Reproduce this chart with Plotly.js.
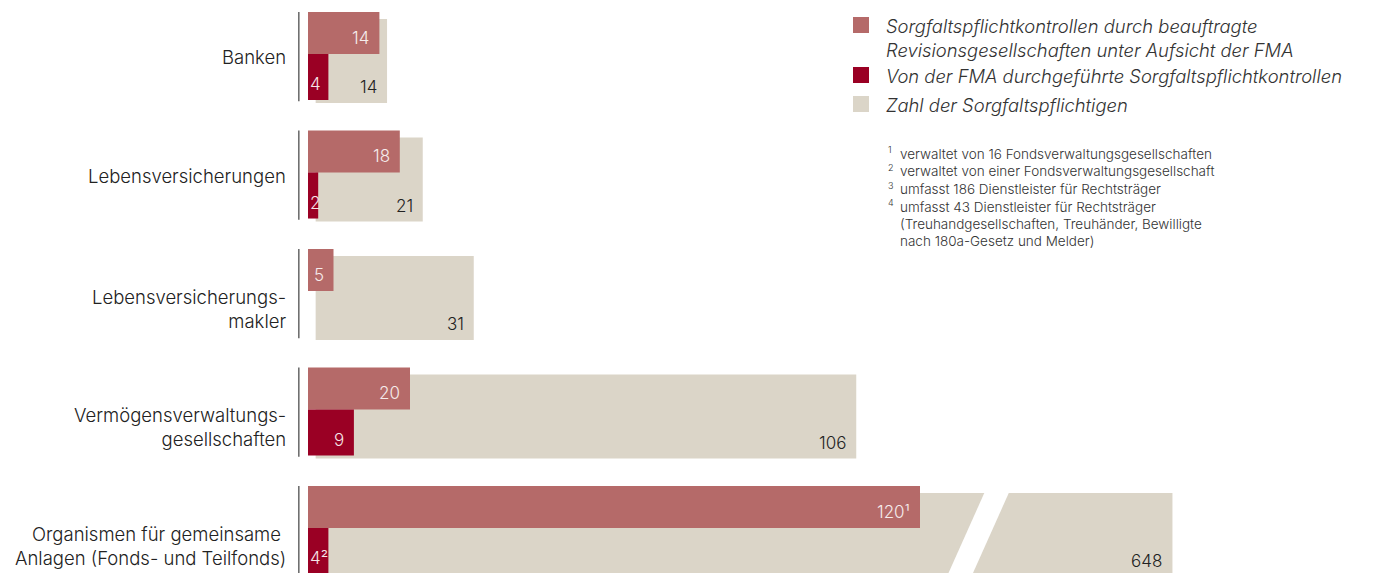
<!DOCTYPE html>
<html>
<head>
<meta charset="utf-8">
<script src="https://cdn.plot.ly/plotly-3.0.1.min.js"></script>
<style>html,body{margin:0;padding:0;background:#fff}#chart{width:1373px;height:573px}</style>
</head>
<body>
<div id="chart"></div>
<script>
// ---------- data ----------
const categories = ['Banken', 'Lebensversicherungen', 'Lebensversicherungsmakler', 'Vermögensverwaltungsgesellschaften', 'Organismen für gemeinsame Anlagen (Fonds- und Teilfonds)'];
const categoryLabels = ['Banken', 'Lebensversicherungen', 'Lebensversicherungs-<br>makler', 'Vermögensverwaltungs-<br>gesellschaften', 'Organismen für gemeinsame <br>Anlagen (Fonds- und Teilfonds)'];
const revisionControls = [14, 18, 5, 20, 120];
const fmaControls = [4, 2, null, 9, 4];
const obligedEntities = [14, 21, 31, 106, 648];
const revisionNotes = ['', '', '', '', '¹'];
const fmaNotes = ['', '', '', '', '²'];
const seriesNames = ['Sorgfaltspflichtkontrollen durch beauftragte<br>Revisionsgesellschaften unter Aufsicht der FMA', 'Von der FMA durchgeführte Sorgfaltspflichtkontrollen', 'Zahl der Sorgfaltspflichtigen'];
const footnotes = [
  ['1', 'verwaltet von 16 Fondsverwaltungsgesellschaften'],
  ['2', 'verwaltet von einer Fondsverwaltungsgesellschaft'],
  ['3', 'umfasst 186 Dienstleister für Rechtsträger'],
  ['4', 'umfasst 43 Dienstleister für Rechtsträger'],
  ['', '(Treuhandgesellschaften, Treuhänder, Bewilligte'],
  ['', 'nach 180a-Gesetz und Melder)']
];

// ---------- style / layout constants ----------
const W = 1373, H = 573;
const FONT = 'Inter, "Liberation Sans", Arial, sans-serif';
const ROSE = '#b56a69', DARK = '#9a0024', GREY = '#dbd5c8';
const ML = 290;                 // left margin (px)
const PXU = 5.1;                // pixels per unit
const X0 = -(308 - ML) / PXU;   // axis starts a bit left of zero
const X1 = X0 + (W - ML) / PXU;
const Y_TOP = -0.485, Y_BOT = 4.35;
const PYU = H / (Y_BOT - Y_TOP); // pixels per y unit
const GREY_BASE = 1.5;          // grey bars start slightly right of zero
const BREAK_FROM = 130, BREAK_TO = 610;  // axis break (values cut out)
const ROSE_OFF = -0.384, ROSE_W = 0.354;
const DARK_OFF = -0.030, DARK_W = 0.389;
const GREY_OFF = -0.325, GREY_W = 0.709;

const idx = categories.map((_, i) => i);
const disp = v => (v != null && v > BREAK_TO) ? v - (BREAK_TO - BREAK_FROM) : v;

const px2paperX = p => (p - ML) / (W - ML);
const px2paperY = p => 1 - p / H;

const traces = [
  {type: 'bar', orientation: 'h', name: seriesNames[2], y: idx, x: obligedEntities.map(disp),
   base: idx.map(() => GREY_BASE), offset: GREY_OFF, width: GREY_W,
   marker: {color: GREY}, customdata: obligedEntities, hovertemplate: '%{customdata}<extra></extra>'},
  {type: 'bar', orientation: 'h', name: seriesNames[0], y: idx, x: revisionControls,
   offset: ROSE_OFF, width: ROSE_W, marker: {color: ROSE}, hovertemplate: '%{x}<extra></extra>'},
  {type: 'bar', orientation: 'h', name: seriesNames[1], y: idx, x: fmaControls,
   offset: DARK_OFF, width: DARK_W, marker: {color: DARK}, hovertemplate: '%{x}<extra></extra>'}
];

const annotations = [];
const shapes = [];

// category labels
categoryLabels.forEach((t, i) => {
  annotations.push({xref: 'paper', yref: 'y', x: 0, y: i + (t.includes('<br>') ? 0.12 : 0), xanchor: 'right', yanchor: 'middle',
    xshift: -2, text: t, showarrow: false, align: 'right', font: {family: FONT, size: 18.5, weight: 300, color: '#222'}});
  // group axis line
  shapes.push({type: 'line', xref: 'x', yref: 'y', x0: -1.8, x1: -1.8, y0: i - 0.384, y1: i + 0.37,
    line: {color: '#666', width: 1.5}});
});

function valueLabel(v, note, x, yBottom, color) {
  if (v == null) return;
  const small = x * PXU < 24;
  const up = 0.08;   // anchor a little above the bar bottom so it stays inside the axis range
  annotations.push({xref: 'x', yref: 'y', x: small ? 0 : x, y: yBottom - up, xanchor: small ? 'left' : 'right', yanchor: 'bottom',
    xshift: small ? 0 : -8, yshift: 4 - up * PYU, showarrow: false,
    text: String(v) + (note || ''), font: {family: FONT, size: 17, weight: 300, color: color}});
}
idx.forEach(i => {
  valueLabel(revisionControls[i], revisionNotes[i], revisionControls[i], i + ROSE_OFF + ROSE_W, '#f6ecec');
  valueLabel(fmaControls[i], fmaNotes[i], fmaControls[i], i + DARK_OFF + DARK_W, '#f6e6e8');
  valueLabel(obligedEntities[i], '', GREY_BASE + disp(obligedEntities[i]), i + GREY_OFF + GREY_W, '#222');
});

// axis break (white diagonal gap) on bars that exceed the break
idx.forEach(i => {
  if (obligedEntities[i] > BREAK_TO) {
    const xc = GREY_BASE + BREAK_FROM, yTop = i + GREY_OFF - 0.01, yBot = i + GREY_OFF + GREY_W + 0.1;
    const yMid = i + GREY_OFF + 0.3375, slope = 10.4, hw = 2.4;
    const cx = y => xc - (y - yMid) * slope;
    shapes.push({type: 'path', xref: 'x', yref: 'y', layer: 'above', line: {width: 0}, fillcolor: '#ffffff',
      path: `M ${cx(yTop) - hw} ${yTop} L ${cx(yTop) + hw} ${yTop} L ${cx(yBot) + hw} ${yBot} L ${cx(yBot) - hw} ${yBot} Z`});
  }
});

// legend (manual)
const legendItems = [
  {color: ROSE, y0: 17, lines: [[seriesNames[0].split('<br>')[0], 26], [seriesNames[0].split('<br>')[1], 50]]},
  {color: DARK, y0: 67, lines: [[seriesNames[1], 76]]},
  {color: GREY, y0: 96, lines: [[seriesNames[2], 105]]}
];
legendItems.forEach(it => {
  shapes.push({type: 'rect', xref: 'paper', yref: 'paper', x0: px2paperX(853), x1: px2paperX(869),
    y0: px2paperY(it.y0), y1: px2paperY(it.y0 + 16), fillcolor: it.color, line: {width: 0}});
  it.lines.forEach(([t, py]) => {
    annotations.push({xref: 'paper', yref: 'paper', x: px2paperX(884), y: px2paperY(py), xanchor: 'left', yanchor: 'middle',
      showarrow: false, text: '<i>' + t + '</i>', font: {family: FONT, size: 18.4, weight: 300, color: '#333'}});
  });
});

// footnotes
footnotes.forEach(([n, t], k) => {
  const py = 154 + k * 17.5;
  if (n) annotations.push({xref: 'paper', yref: 'paper', x: px2paperX(886), y: px2paperY(py - 4), xanchor: 'left', yanchor: 'middle',
    showarrow: false, text: n, font: {family: FONT, size: 9, weight: 300, color: '#333'}});
  annotations.push({xref: 'paper', yref: 'paper', x: px2paperX(898), y: px2paperY(py), xanchor: 'left', yanchor: 'middle',
    showarrow: false, text: t, font: {family: FONT, size: 13.5, weight: 300, color: '#333'}});
});

const layout = {
  width: W, height: H, margin: {l: ML, r: 0, t: 0, b: 0},
  paper_bgcolor: '#fff', plot_bgcolor: '#fff', barmode: 'overlay', showlegend: false,
  xaxis: {range: [X0, X1], showgrid: false, zeroline: false, showticklabels: false, showline: false, fixedrange: true},
  yaxis: {range: [Y_BOT, Y_TOP], showgrid: false, zeroline: false, showticklabels: false, showline: false, fixedrange: true},
  annotations: annotations, shapes: shapes,
  font: {family: FONT}
};

Plotly.newPlot('chart', traces, layout, {displayModeBar: false});
</script>
</body>
</html>
